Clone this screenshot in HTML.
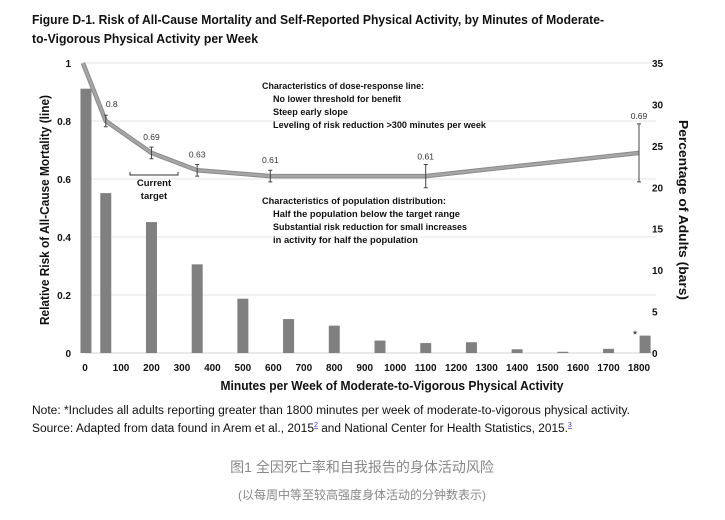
<!DOCTYPE html>
<html><head><meta charset="utf-8"><style>
body{margin:0;background:#fff;}
svg{display:block;font-family:"Liberation Sans","Noto Sans CJK SC",sans-serif;}
</style></head><body>
<svg id="chart" width="725" height="520" viewBox="0 0 725 520">
<text x="32" y="24" font-size="12.5" font-weight="bold" fill="#111" textLength="572" lengthAdjust="spacingAndGlyphs">Figure D-1. Risk of All-Cause Mortality and Self-Reported Physical Activity, by Minutes of Moderate-</text>
<text x="32" y="43" font-size="12.5" font-weight="bold" fill="#111" textLength="226" lengthAdjust="spacingAndGlyphs">to-Vigorous Physical Activity per Week</text>
<g id="grid"></g>
<g id="bars"></g>
<g id="line"></g>
<g id="axes"></g>
<g font-size="9.5" font-weight="bold" fill="#111">
<text x="262" y="89" textLength="162" lengthAdjust="spacingAndGlyphs">Characteristics of dose-response line:</text>
<text x="273" y="102" textLength="128" lengthAdjust="spacingAndGlyphs">No lower threshold for benefit</text>
<text x="273" y="115" textLength="75" lengthAdjust="spacingAndGlyphs">Steep early slope</text>
<text x="273" y="128" textLength="213" lengthAdjust="spacingAndGlyphs">Leveling of risk reduction &gt;300 minutes per week</text>
</g>
<g font-size="9.5" font-weight="bold" fill="#111">
<text x="262" y="204" textLength="184" lengthAdjust="spacingAndGlyphs">Characteristics of population distribution:</text>
<text x="273" y="217" textLength="187" lengthAdjust="spacingAndGlyphs">Half the population below the target range</text>
<text x="273" y="230" textLength="194" lengthAdjust="spacingAndGlyphs">Substantial risk reduction for small increases</text>
<text x="273" y="243" textLength="145" lengthAdjust="spacingAndGlyphs">in activity for half the population</text>
</g>
<g>
<path d="M130,172 v3 h48 v-3" fill="none" stroke="#333" stroke-width="1"/>
<text x="154" y="186" font-size="9.5" font-weight="bold" text-anchor="middle" fill="#111">Current</text>
<text x="154" y="199" font-size="9.5" font-weight="bold" text-anchor="middle" fill="#111">target</text>
</g>
<text x="635" y="338" font-size="11" text-anchor="middle" fill="#111">*</text>
<text transform="translate(49,210) rotate(-90)" font-size="12.5" font-weight="bold" text-anchor="middle" fill="#111" textLength="230" lengthAdjust="spacingAndGlyphs">Relative Risk of All-Cause Mortality (line)</text>
<text transform="translate(679,210) rotate(90)" font-size="12.5" font-weight="bold" text-anchor="middle" fill="#111" textLength="180" lengthAdjust="spacingAndGlyphs">Percentage of Adults (bars)</text>
<text x="392" y="390" font-size="12.5" font-weight="bold" text-anchor="middle" fill="#111" textLength="343" lengthAdjust="spacingAndGlyphs">Minutes per Week of Moderate-to-Vigorous Physical Activity</text>
<text x="32" y="414" font-size="11.5" fill="#111" textLength="598" lengthAdjust="spacingAndGlyphs">Note: *Includes all adults reporting greater than 1800 minutes per week of moderate-to-vigorous physical activity.</text>
<text x="32" y="432" font-size="11.5" fill="#111"><tspan textLength="282" lengthAdjust="spacingAndGlyphs">Source: Adapted from data found in Arem et al., 2015</tspan><tspan font-size="7" dy="-5" fill="#33c" text-decoration="underline">2</tspan><tspan dy="5" textLength="250" lengthAdjust="spacingAndGlyphs"> and National Center for Health Statistics, 2015.</tspan><tspan font-size="7" dy="-5" fill="#33c" text-decoration="underline">3</tspan></text>
<text x="362" y="472" font-size="14" fill="#888" text-anchor="middle">图1 全因死亡率和自我报告的身体活动风险</text>
<text x="362" y="499" font-size="12" fill="#888" text-anchor="middle">(以每周中等至较高强度身体活动的分钟数表示)</text>
</svg>
<script>
// Bars: percentage of adults by minutes category
const barMinutes = [-15, 50, 200, 350, 500, 650, 800, 950, 1100, 1250, 1400, 1550, 1700, 1820];
const barPercents = [31.9, 19.3, 15.8, 10.7, 6.55, 4.1, 3.3, 1.5, 1.2, 1.3, 0.45, 0.15, 0.5, 2.1];
// Line: relative risk
const lineMinutes = [-25, 50, 200, 350, 590, 1100, 1800];
const lineRisk = [1.0, 0.8, 0.69, 0.63, 0.61, 0.61, 0.69];
const riskLow = [null, 0.78, 0.67, 0.61, 0.59, 0.57, 0.59];
const riskHigh = [null, 0.82, 0.71, 0.65, 0.63, 0.65, 0.79];
const riskLabels = ["", "0.8", "0.69", "0.63", "0.61", "0.61", "0.69"];
const xTickValues = [0,100,200,300,400,500,600,700,800,900,1000,1100,1200,1300,1400,1500,1600,1700,1800];
const leftTicks = [0, 0.2, 0.4, 0.6, 0.8, 1];
const rightTicks = [0, 5, 10, 15, 20, 25, 30, 35];

const NS = "http://www.w3.org/2000/svg";
const X0 = 84, X1 = 656, Y0 = 353, Y1 = 63;
function x(m){ return 121 + (m - 100) * (518/1700); }
function yL(v){ return Y0 - v * (Y0 - Y1); }
function yR(v){ return Y0 - v / 35 * (Y0 - Y1); }
function mk(tag, attrs, parent){ const e = document.createElementNS(NS, tag); for (const k in attrs) e.setAttribute(k, attrs[k]); parent.appendChild(e); return e; }

const grid = document.getElementById('grid');
leftTicks.forEach(t => {
  const g = mk('line', {x1:X0, x2:X1, y1:yL(t), y2:yL(t), stroke:t===0?'#d0d0d0':'#e6e6e6', 'stroke-width':1}, grid);
  
  
});
const axes = document.getElementById('axes');
leftTicks.forEach(t => {
  const e = mk('text', {x:71, y:yL(t)+4, 'font-size':10, 'font-weight':'bold', 'text-anchor':'end', fill:'#111'}, axes);
  e.textContent = t === 0 ? '0' : (t === 1 ? '1' : t.toString());
  
  
});
rightTicks.forEach(t => {
  const e = mk('text', {x:652, y:yR(t)+4, 'font-size':10, 'font-weight':'bold', fill:'#111'}, axes);
  e.textContent = t;
  
  
});
xTickValues.forEach(t => {
  const e = mk('text', {x:t===0?85:x(t), y:371, 'font-size':10, 'font-weight':'bold', 'text-anchor':'middle', fill:'#111'}, axes);
  e.textContent = t;
  
  
});

const bars = document.getElementById('bars');
barMinutes.forEach((m, i) => {
  const top = yR(barPercents[i]);
  const r = mk('rect', {x:x(m)-5.5, y:top, width:11, height:Y0-top, fill:'#808080'}, bars);
  
  
});

const line = document.getElementById('line');
const pts = lineMinutes.map((m, i) => x(m) + ',' + yL(lineRisk[i])).join(' ');
const l1 = mk('polyline', {points:pts, fill:'none', stroke:'#8a8a8a', 'stroke-width':4.5, 'stroke-linejoin':'round'}, line);


const l2 = mk('polyline', {points:pts, fill:'none', stroke:'#a6a6a6', 'stroke-width':2.5, 'stroke-linejoin':'round'}, line);


lineMinutes.forEach((m, i) => {
  const cx = x(m);
  if (riskLow[i] !== null) {
    const eb = mk('path', {d:`M${cx},${yL(riskLow[i])}V${yL(riskHigh[i])}M${cx-2},${yL(riskLow[i])}h4M${cx-2},${yL(riskHigh[i])}h4`, stroke:'#444', 'stroke-width':1, fill:'none'}, line);
    
    
  }
  if (riskLabels[i]) {
    const yy = riskHigh[i] !== null ? Math.min(yL(riskHigh[i]), yL(lineRisk[i]) - 8) - 5 : 0;
    const t = mk('text', {x:cx+(i===1?6:0), y:i===1?yL(lineRisk[i])-14:yy, 'font-size':8.5, 'text-anchor':'middle', fill:'#333'}, line);
    t.textContent = riskLabels[i];
    
    
  }
});
</script>
</body></html>
